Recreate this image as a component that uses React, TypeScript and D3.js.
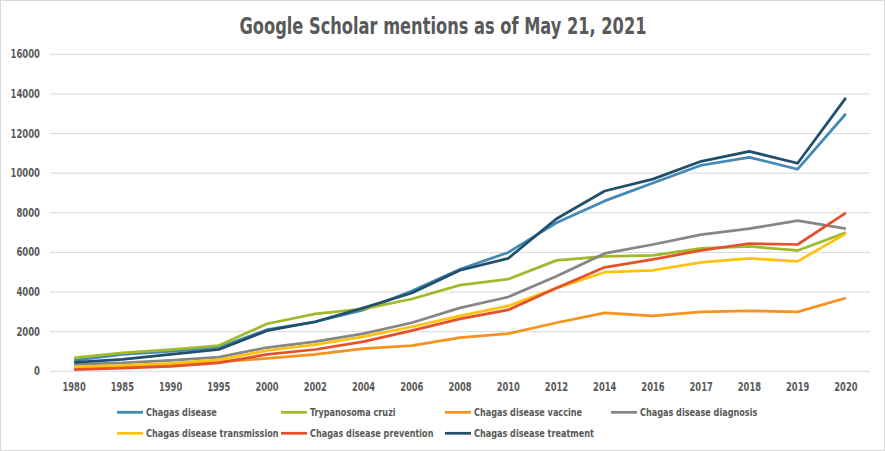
import React from "react";
import * as d3 from "d3";

const years = ["1980","1985","1990","1995","2000","2002","2004","2006","2008","2010","2012","2014","2016","2017","2018","2019","2020"];
const yTicks = [0, 2000, 4000, 6000, 8000, 10000, 12000, 14000, 16000];

const chagasDisease = [550, 850, 1000, 1200, 2100, 2500, 3100, 4050, 5150, 6000, 7500, 8600, 9500, 10400, 10800, 10200, 13000];
const trypanosomaCruzi = [680, 930, 1100, 1300, 2400, 2900, 3150, 3650, 4350, 4650, 5600, 5800, 5850, 6200, 6300, 6100, 7000];
const vaccine = [150, 220, 300, 480, 650, 850, 1150, 1300, 1700, 1900, 2450, 2950, 2800, 3000, 3050, 3000, 3700];
const diagnosis = [350, 420, 550, 720, 1200, 1500, 1900, 2450, 3200, 3750, 4800, 5950, 6400, 6900, 7200, 7600, 7200];
const transmission = [220, 300, 400, 580, 1050, 1350, 1750, 2250, 2800, 3300, 4200, 5000, 5100, 5500, 5700, 5550, 6950];
const prevention = [80, 160, 250, 430, 850, 1100, 1500, 2050, 2650, 3100, 4200, 5250, 5650, 6100, 6450, 6400, 8000];
const treatment = [450, 600, 850, 1100, 2050, 2500, 3200, 3950, 5100, 5700, 7700, 9100, 9700, 10600, 11100, 10500, 13800];

const seriesNames = ["Chagas disease", "Trypanosoma cruzi", "Chagas disease vaccine", "Chagas disease diagnosis", "Chagas disease transmission", "Chagas disease prevention", "Chagas disease treatment"];
const seriesColors = ["#4389b6", "#9fba2c", "#f7921e", "#868686", "#ffc20e", "#e4522b", "#22506a"];
const seriesValues = [chagasDisease, trypanosomaCruzi, vaccine, diagnosis, transmission, prevention, treatment];

const W = 885, H = 451;
const left = 50, right = 870, top = 54.3, bottom = 371.3;

export default function App() {
  const x = d3.scalePoint<string>().domain(years).range([left, right]).padding(0.5);
  const y = d3.scaleLinear().domain([0, 16000]).range([bottom, top]);
  const line = d3.line<number>().x((_, i) => x(years[i]) as number).y((d) => y(d));
  const textColor = "#595959";
  const font = "'DejaVu Sans Condensed', 'Liberation Sans', sans-serif";

  const legendCols = [117, 281, 445, 611];
  const legendRows = [412.3, 433.3];

  return (
    <svg width={W} height={H} style={{ position: "absolute", left: 0, top: 0, background: "#fff" }} fontFamily={font}>
      <rect x={0.5} y={0.5} width={W - 1} height={H - 1} fill="#fff" stroke="#d9d9d9" />
      <text x={443} y={34} textAnchor="middle" fontSize={23} fontWeight="bold" fill={textColor} textLength={407} lengthAdjust="spacingAndGlyphs">
        Google Scholar mentions as of May 21, 2021
      </text>
      {yTicks.map((t) => (
        <g key={t}>
          {t > 0 && <line x1={left} x2={right} y1={y(t)} y2={y(t)} stroke="#d9d9d9" strokeWidth={1} />}
          <text x={40} y={y(t) + 4} textAnchor="end" fontSize={11.5} fontWeight="bold" fill={textColor}
            textLength={String(t).length * 5.9} lengthAdjust="spacingAndGlyphs">{t}</text>
        </g>
      ))}
      <line x1={left} x2={right} y1={bottom} y2={bottom} stroke="#d9d9d9" strokeWidth={1} />
      {years.map((yr) => (
        <text key={yr} x={x(yr)} y={391} textAnchor="middle" fontSize={11.5} fontWeight="bold" fill={textColor}
          textLength={yr.length * 5.8} lengthAdjust="spacingAndGlyphs">{yr}</text>
      ))}
      {seriesValues.map((vals, i) => (
        <path key={i} d={line(vals) || ""} fill="none" stroke={seriesColors[i]} strokeWidth={2.75} strokeLinejoin="round" />
      ))}
      {seriesNames.map((name, i) => {
        const row = i < 4 ? 0 : 1;
        const col = i < 4 ? i : i - 4;
        const lx = legendCols[col];
        const ly = legendRows[row];
        return (
          <g key={name}>
            <line x1={lx} x2={lx + 26} y1={ly} y2={ly} stroke={seriesColors[i]} strokeWidth={2.75} />
            <text transform={`translate(${lx + 29},${ly + 4}) scale(0.82,1)`} fontSize={11} fontWeight="bold" fill={textColor}>{name}</text>
          </g>
        );
      })}
    </svg>
  );
}
